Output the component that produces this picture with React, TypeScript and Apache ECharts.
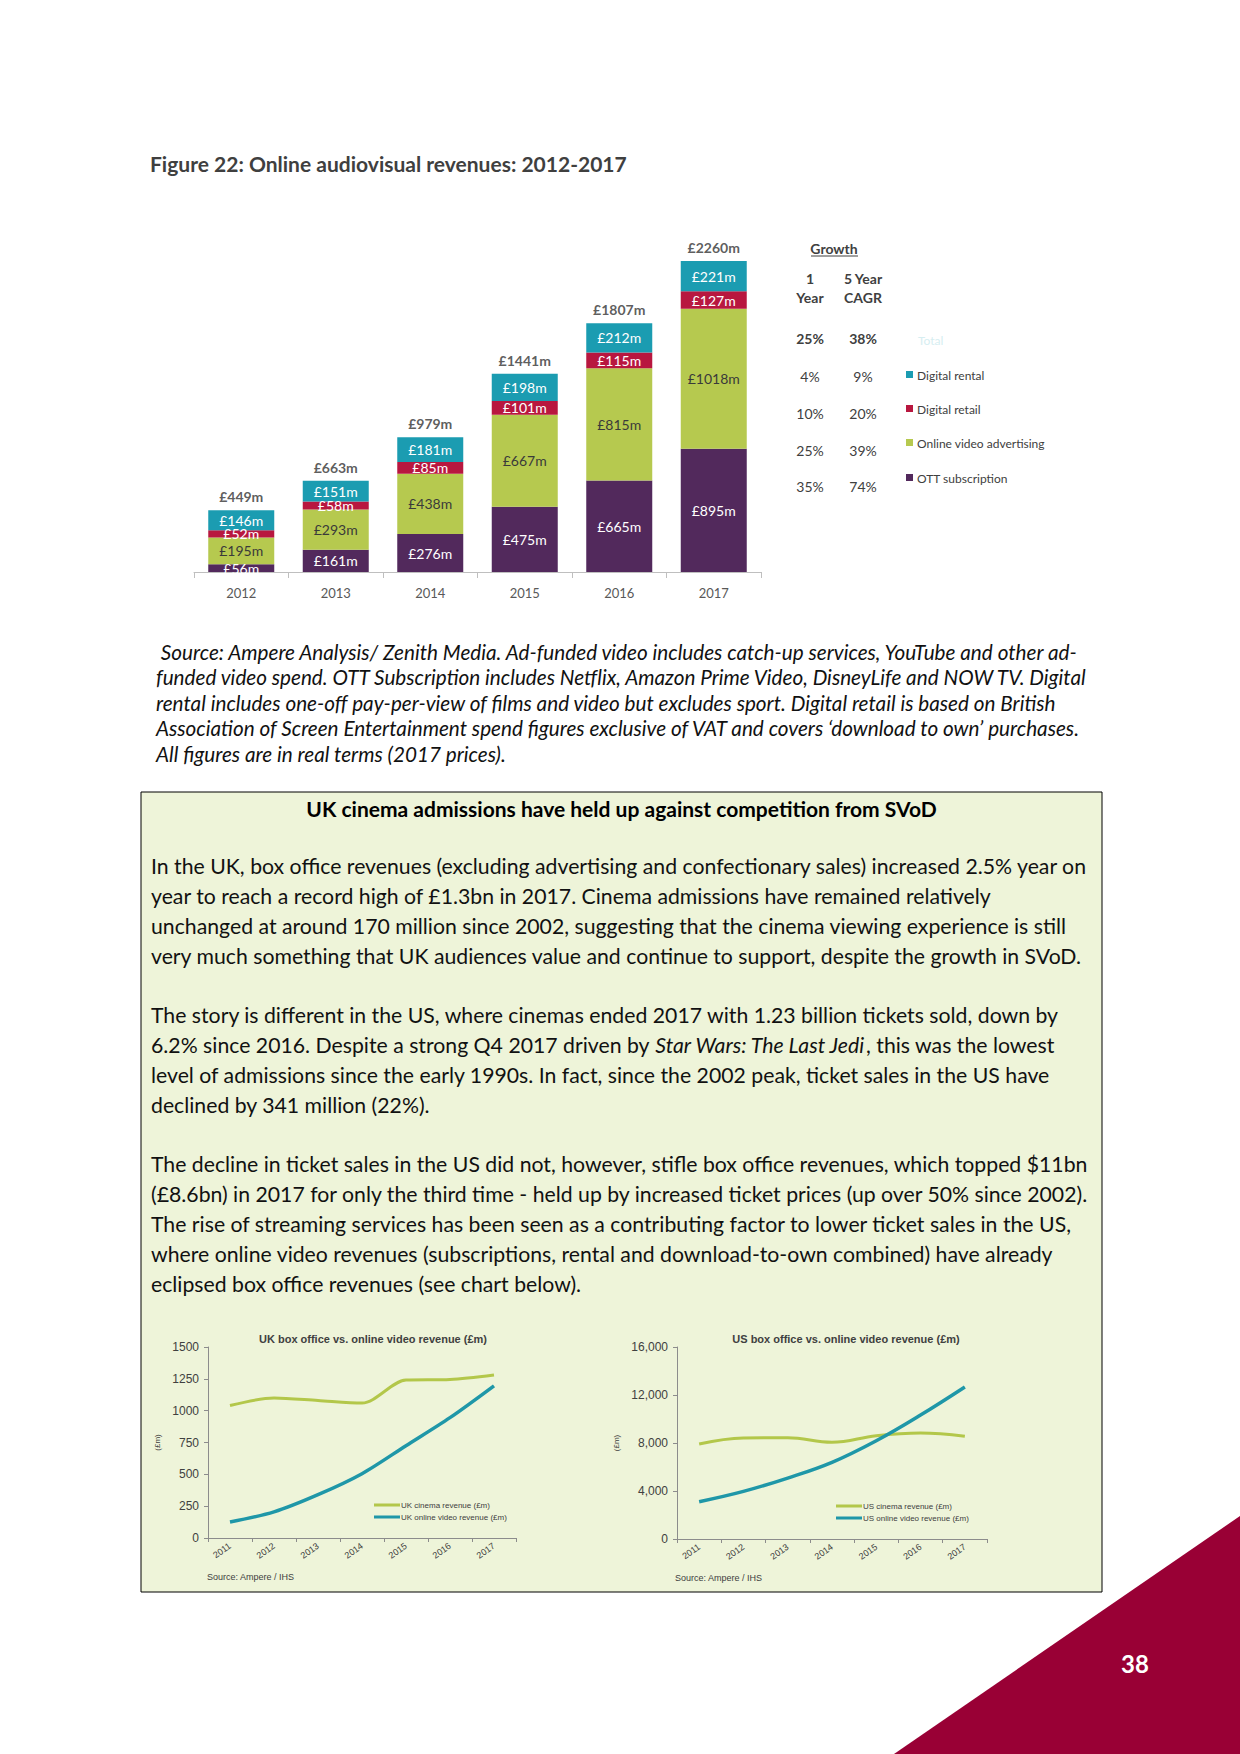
import React, { useEffect, useRef } from "react";
import * as echarts from "echarts";

// ---------- Data ----------
const years = ["2012", "2013", "2014", "2015", "2016", "2017"];
const ottSubscription = [56, 161, 276, 475, 665, 895];
const onlineVideoAdvertising = [195, 293, 438, 667, 815, 1018];
const digitalRetail = [52, 58, 85, 101, 115, 127];
const digitalRental = [146, 151, 181, 198, 212, 221];
const totals = [449, 663, 979, 1441, 1807, 2260];

const growthLabels = ["Total", "Digital rental", "Digital retail", "Online video advertising", "OTT subscription"];
const growthOneYear = ["25%", "4%", "10%", "25%", "35%"];
const growthCagr = ["38%", "9%", "20%", "39%", "74%"];

const lineYears = ["2011", "2012", "2013", "2014", "2015", "2016", "2017"];
const ukCinema = [1040, 1100, 1080, 1060, 1240, 1245, 1280];
const ukOnline = [125, 205, 340, 505, 725, 945, 1195];
const usCinema = [7920, 8420, 8440, 8060, 8610, 8830, 8560];
const usOnline = [3110, 3970, 5080, 6390, 8190, 10330, 12670];

const figureTitle = "Figure 22: Online audiovisual revenues: 2012-2017";
const captionLines = [
  " Source: Ampere Analysis/ Zenith Media. Ad-funded video includes catch-up services, YouTube and other ad-",
  "funded video spend. OTT Subscription includes Netflix, Amazon Prime Video, DisneyLife and NOW TV. Digital",
  "rental includes one-off pay-per-view of films and video but excludes sport. Digital retail is based on British",
  "Association of Screen Entertainment spend figures exclusive of VAT and covers \u2018download to own\u2019 purchases.",
  "All figures are in real terms (2017 prices).",
];
const boxHeading = "UK cinema admissions have held up against competition from SVoD";
const paragraphs = [
  [
    "In the UK, box office revenues (excluding advertising and confectionary sales) increased 2.5% year on",
    "year to reach a record high of \u00a31.3bn in 2017. Cinema admissions have remained relatively",
    "unchanged at around 170 million since 2002, suggesting that the cinema viewing experience is still",
    "very much something that UK audiences value and continue to support, despite the growth in SVoD.",
  ],
  [
    "The story is different in the US, where cinemas ended 2017 with 1.23 billion tickets sold, down by",
    "{n|6.2% since 2016. Despite a strong Q4 2017 driven by }{i|Star Wars: The Last Jedi}{n|, this was the lowest}",
    "level of admissions since the early 1990s. In fact, since the 2002 peak, ticket sales in the US have",
    "declined by 341 million (22%).",
  ],
  [
    "The decline in ticket sales in the US did not, however, stifle box office revenues, which topped $11bn",
    "(\u00a38.6bn) in 2017 for only the third time - held up by increased ticket prices (up over 50% since 2002).",
    "The rise of streaming services has been seen as a contributing factor to lower ticket sales in the US,",
    "where online video revenues (subscriptions, rental and download-to-own combined) have already",
    "eclipsed box office revenues (see chart below).",
  ],
];

const C_TEAL = "#1b9cb1";
const C_RED = "#b8173f";
const C_GREEN = "#b6c94f";
const C_PURPLE = "#52295c";
const L_GREEN = "#b3c74a";
const L_TEAL = "#1f97a8";

function App() {
  const ref = useRef<HTMLDivElement>(null);

  useEffect(() => {
    if (!ref.current) return;
    const chart = echarts.init(ref.current, undefined, { renderer: "svg" });

    const ctx = document.createElement("canvas").getContext("2d")!;
    const measure = (t: string, font: string) => {
      ctx.font = font;
      return ctx.measureText(t).width;
    };
    const sxBody = 937 / measure(paragraphs[0][0], "21px Lato");
    const sxBold = 477 / measure(figureTitle, "bold 21px Lato");

    const g: any[] = [];
    const txt = (x: number, y: number, text: string, o: any = {}) => {
      const align = o.align || "left";
      g.push({
        type: "text",
        x,
        y,
        scaleX: o.sx || 1,
        z: 10,
        style: {
          text,
          fontSize: o.size || 21,
          fontFamily: o.family || "Lato",
          fontWeight: o.weight || "normal",
          fontStyle: o.style || "normal",
          fill: o.color || "#111",
          align,
          textAlign: align,
          verticalAlign: "middle",
          textVerticalAlign: "middle",
          rich: o.rich,
        },
      });
    };

    // box background
    g.push({
      type: "rect",
      z: 0,
      shape: { x: 141, y: 792, width: 961, height: 800 },
      style: { fill: "#eef4d9", stroke: "#000", lineWidth: 1 },
    });
    // corner triangle
    g.push({
      type: "polygon",
      z: 0,
      shape: { points: [[894, 1754], [1240, 1516], [1240, 1754]] },
      style: { fill: "#990035" },
    });
    txt(1135, 1663, "38", { align: "center", size: 24, weight: "bold", color: "#ffffff", sx: 1 });

    // Figure title
    txt(150, 164, figureTitle, { weight: "bold", color: "#3f3f3f", sx: sxBold });

    // growth table
    txt(834, 248, "Growth", { align: "center", size: 14, weight: "bold", color: "#404040" });
    g.push({ type: "line", z: 10, shape: { x1: 811, y1: 256, x2: 858, y2: 256 }, style: { stroke: "#404040", lineWidth: 1 } });
    txt(810, 278, "1", { align: "center", size: 14, weight: "bold", color: "#404040" });
    txt(810, 297, "Year", { align: "center", size: 14, weight: "bold", color: "#404040" });
    txt(863, 278, "5 Year", { align: "center", size: 14, weight: "bold", color: "#404040" });
    txt(863, 297, "CAGR", { align: "center", size: 14, weight: "bold", color: "#404040" });
    const rowY = [338, 376, 413, 450, 486];
    const legY = [340, 375, 409, 443, 478];
    const legCol = ["", C_TEAL, C_RED, C_GREEN, C_PURPLE];
    growthLabels.forEach((lab, i) => {
      const w = i === 0 ? "bold" : "normal";
      txt(810, rowY[i], growthOneYear[i], { align: "center", size: 14, weight: w, color: "#404040" });
      txt(863, rowY[i], growthCagr[i], { align: "center", size: 14, weight: w, color: "#404040" });
      if (i === 0) {
        txt(918, legY[i], lab, { size: 12, color: "#d6eef1" });
      } else {
        g.push({ type: "rect", z: 10, shape: { x: 906, y: legY[i] - 4, width: 7, height: 7 }, style: { fill: legCol[i] } });
        txt(917, legY[i], lab, { size: 12, color: "#404040" });
      }
    });

    // caption
    const capY = [651, 676.5, 702, 727.5, 753];
    captionLines.forEach((l, i) => txt(156, capY[i], l, { style: "italic", sx: sxBody * 0.975 }));

    // heading + paragraphs
    txt(621.5, 809, boxHeading, { align: "center", weight: "bold", color: "#000", sx: sxBold });
    let y = 866;
    paragraphs.forEach((p) => {
      p.forEach((line) => {
        const rich = line.startsWith("{n|")
          ? {
              n: { fontSize: 21, fontFamily: "Lato", fill: "#111", color: "#111" },
              i: { fontSize: 21, fontFamily: "Lato", fontStyle: "italic", fill: "#111", color: "#111" },
            }
          : undefined;
        txt(151, y, line, { sx: sxBody, rich });
        y += 30;
      });
      y += 29;
    });

    // line chart titles / sources
    txt(373, 1339, "UK box office vs. online video revenue (\u00a3m)", { align: "center", size: 11, weight: "bold", family: "Liberation Sans", color: "#404040" });
    txt(846, 1339, "US box office vs. online video revenue (\u00a3m)", { align: "center", size: 11, weight: "bold", family: "Liberation Sans", color: "#404040" });
    txt(207, 1577, "Source: Ampere / IHS", { size: 9, family: "Liberation Sans", color: "#404040" });
    txt(675, 1578, "Source: Ampere / IHS", { size: 9, family: "Liberation Sans", color: "#404040" });

    const stackSums = years.map((_, i) => ottSubscription[i] + onlineVideoAdvertising[i] + digitalRetail[i] + digitalRental[i]);

    const barLabel = (color: string) => ({
      show: true,
      position: "inside",
      formatter: (p: any) => "\u00a3" + p.value + "m",
      color,
      fontSize: 14,
      fontFamily: "Lato",
    });

    const lineAxisX = (gi: number) => ({
      gridIndex: gi,
      type: "category",
      data: lineYears,
      axisLine: { lineStyle: { color: "#8c8c8c" } },
      axisTick: { show: true, length: 4, lineStyle: { color: "#8c8c8c" } },
      axisLabel: { rotate: 35, fontSize: 9, color: "#404040", margin: 7, fontFamily: "Liberation Sans" },
    });
    const lineAxisY = (gi: number, max: number, interval: number, gap: number, fmt: (v: number) => string) => ({
      gridIndex: gi,
      type: "value",
      min: 0,
      max,
      interval,
      axisLine: { show: true, lineStyle: { color: "#8c8c8c" } },
      axisTick: { show: true, length: 4, lineStyle: { color: "#8c8c8c" } },
      splitLine: { show: false },
      axisLabel: { fontSize: 12, color: "#404040", margin: 9, fontFamily: "Liberation Sans", formatter: fmt },
      name: "(\u00a3m)",
      nameLocation: "middle",
      nameGap: gap,
      nameTextStyle: { fontSize: 8, color: "#404040", fontFamily: "Liberation Sans" },
    });

    const option: any = {
      animation: false,
      backgroundColor: "#ffffff",
      graphic: g,
      grid: [
        { left: 194, top: 228, width: 567, height: 344 },
        { left: 208, top: 1347, width: 308, height: 191 },
        { left: 677, top: 1347, width: 310, height: 192 },
      ],
      legend: [
        {
          data: ["UK cinema revenue (\u00a3m)", "UK online video revenue (\u00a3m)"],
          orient: "vertical",
          left: 369,
          top: 1496,
          itemWidth: 26,
          itemHeight: 3,
          itemGap: 4,
          icon: "rect",
          textStyle: { fontSize: 8, color: "#404040", fontFamily: "Liberation Sans", padding: [0, 0, 0, -4] },
        },
        {
          data: ["US cinema revenue (\u00a3m)", "US online video revenue (\u00a3m)"],
          orient: "vertical",
          left: 831,
          top: 1497,
          itemWidth: 26,
          itemHeight: 3,
          itemGap: 4,
          icon: "rect",
          textStyle: { fontSize: 8, color: "#404040", fontFamily: "Liberation Sans", padding: [0, 0, 0, -4] },
        },
      ],
      xAxis: [
        {
          gridIndex: 0,
          type: "category",
          data: years,
          axisLine: { lineStyle: { color: "#bfbfbf" } },
          axisTick: { show: true, length: 6, lineStyle: { color: "#bfbfbf" } },
          axisLabel: { color: "#595959", fontSize: 13, fontFamily: "Lato", margin: 14 },
        },
        lineAxisX(1),
        lineAxisX(2),
      ],
      yAxis: [
        { gridIndex: 0, type: "value", min: 0, max: 2500, show: false, splitLine: { show: false } },
        lineAxisY(1, 1500, 250, 47, (v: number) => String(v)),
        lineAxisY(2, 16000, 4000, 57, (v: number) => v.toLocaleString("en-US")),
      ],
      series: [
        { name: "OTT subscription", type: "bar", stack: "rev", barWidth: 66, data: ottSubscription, itemStyle: { color: C_PURPLE }, label: barLabel("#ffffff") },
        { name: "Online video advertising", type: "bar", stack: "rev", barWidth: 66, data: onlineVideoAdvertising, itemStyle: { color: C_GREEN }, label: barLabel("#3a3a3a") },
        { name: "Digital retail", type: "bar", stack: "rev", barWidth: 66, data: digitalRetail, itemStyle: { color: C_RED }, label: barLabel("#ffffff") },
        { name: "Digital rental", type: "bar", stack: "rev", barWidth: 66, data: digitalRental, itemStyle: { color: C_TEAL }, label: barLabel("#ffffff") },
        {
          name: "Total",
          type: "scatter",
          xAxisIndex: 0,
          yAxisIndex: 0,
          data: stackSums,
          symbolSize: 1,
          itemStyle: { color: "rgba(0,0,0,0)" },
          label: {
            show: true,
            position: "top",
            distance: 6,
            formatter: (p: any) => "\u00a3" + totals[p.dataIndex] + "m",
            color: "#333333",
            fontWeight: "bold",
            fontSize: 14,
            fontFamily: "Lato",
          },
        },
        { name: "UK cinema revenue (\u00a3m)", type: "line", xAxisIndex: 1, yAxisIndex: 1, data: ukCinema, smooth: 0.3, symbol: "none", lineStyle: { color: L_GREEN, width: 3 }, itemStyle: { color: L_GREEN } },
        { name: "UK online video revenue (\u00a3m)", type: "line", xAxisIndex: 1, yAxisIndex: 1, data: ukOnline, smooth: 0.3, symbol: "none", lineStyle: { color: L_TEAL, width: 3.5 }, itemStyle: { color: L_TEAL } },
        { name: "US cinema revenue (\u00a3m)", type: "line", xAxisIndex: 2, yAxisIndex: 2, data: usCinema, smooth: 0.4, symbol: "none", lineStyle: { color: L_GREEN, width: 3 }, itemStyle: { color: L_GREEN } },
        { name: "US online video revenue (\u00a3m)", type: "line", xAxisIndex: 2, yAxisIndex: 2, data: usOnline, smooth: 0.4, symbol: "none", lineStyle: { color: L_TEAL, width: 3.5 }, itemStyle: { color: L_TEAL } },
      ],
    };

    chart.setOption(option);
    return () => chart.dispose();
  }, []);

  return (
    <div
      ref={ref}
      style={{ position: "absolute", left: 0, top: 0, width: 1240, height: 1754, background: "#fff" }}
    />
  );
}

export default App;
